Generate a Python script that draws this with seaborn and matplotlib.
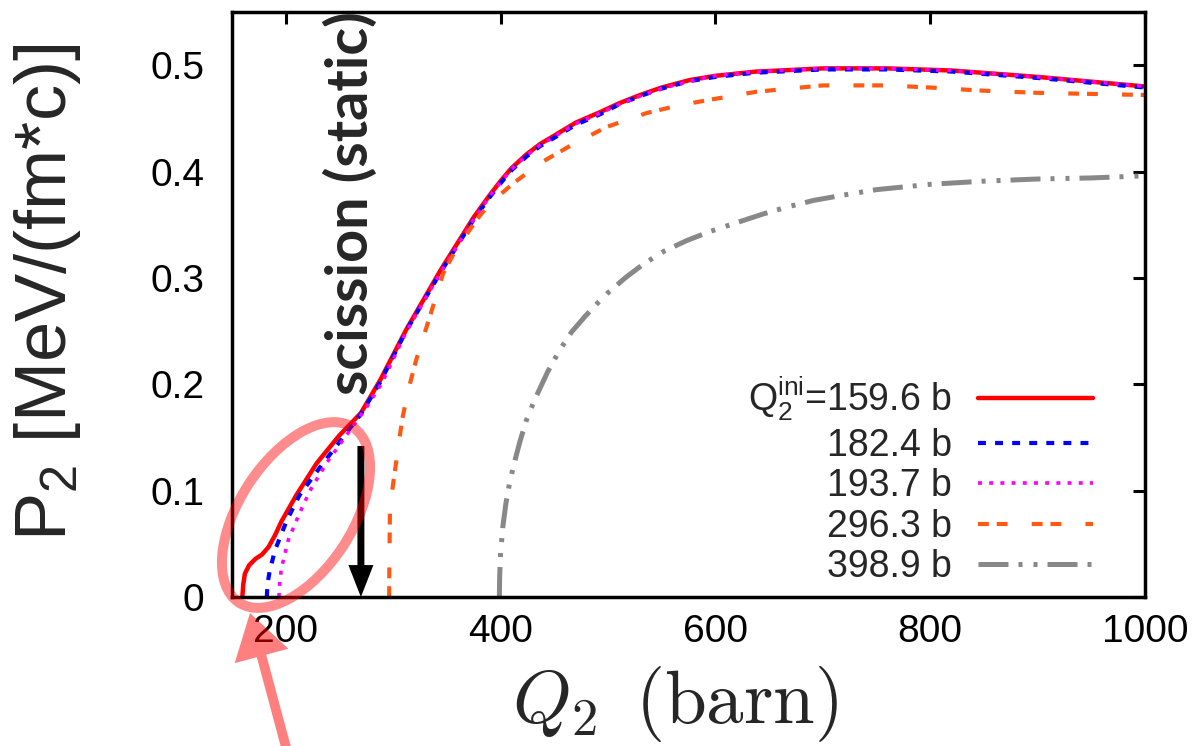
import matplotlib
matplotlib.use('Agg')
import matplotlib.pyplot as plt
import seaborn as sns
from matplotlib.patches import Ellipse

sns.set_style('white')
plt.rcParams['font.family'] = ['Liberation Sans', 'DejaVu Sans']
plt.rcParams['mathtext.fontset'] = 'custom'
plt.rcParams['mathtext.rm'] = 'Liberation Sans'
plt.rcParams['mathtext.it'] = 'Liberation Sans:italic'
plt.rcParams['mathtext.bf'] = 'Liberation Sans:bold'

# P2 vs Q2 for the five initial deformations
q_159 = [159.6, 160.5, 162, 166, 172, 178, 184, 190, 196, 210, 229, 250, 270, 288, 312,
         344, 375, 390, 400, 410, 424, 437, 452, 470, 493, 510, 530, 550, 576, 600, 638,
         660, 700, 760, 820, 900, 1000]
p_159 = [0.0, 0.012, 0.022, 0.030, 0.036, 0.040, 0.047, 0.058, 0.071, 0.096, 0.126, 0.152,
         0.173, 0.204, 0.251, 0.307, 0.357, 0.378, 0.391, 0.403, 0.416, 0.426, 0.435, 0.446,
         0.456, 0.464, 0.472, 0.479, 0.486, 0.490, 0.494, 0.495, 0.497, 0.497, 0.495,
         0.489, 0.480]

q_182 = [182.4, 183, 185, 190, 201, 213, 232, 254, 270, 288, 312,
         344, 375, 390, 400, 410, 424, 437, 452, 470, 493, 510, 530, 550, 576, 600, 638,
         660, 700, 760, 820, 900, 1000]
p_182 = [0.0, 0.012, 0.024, 0.044, 0.072, 0.096, 0.122, 0.151, 0.172, 0.202, 0.250,
         0.305, 0.355, 0.376, 0.389, 0.401, 0.414, 0.424, 0.433, 0.444, 0.454, 0.463,
         0.471, 0.478, 0.485, 0.489, 0.493, 0.494, 0.496, 0.496, 0.494, 0.488, 0.479]

q_193 = [193.7, 194.5, 196, 202.5, 213, 222.6, 238, 260, 275, 290, 312,
         344, 375, 390, 400, 410, 424, 437, 452, 470, 493, 510, 530, 550, 576, 600, 638,
         660, 700, 760, 820, 900, 1000]
p_193 = [0.0, 0.015, 0.027, 0.054, 0.079, 0.100, 0.126, 0.157, 0.178, 0.202, 0.249,
         0.305, 0.355, 0.377, 0.390, 0.402, 0.415, 0.425, 0.434, 0.445, 0.455, 0.463,
         0.471, 0.478, 0.485, 0.490, 0.494, 0.495, 0.497, 0.497, 0.495, 0.489, 0.480]

q_296 = [296.3, 296.4, 296.7, 297, 298.5, 300.5, 303, 306, 309, 315, 321.5, 334, 346.5,
         356, 365, 378, 390, 412, 437, 468, 499, 536, 565, 592, 638, 700, 760, 800, 850,
         900, 950, 1000]
p_296 = [0.0, 0.020, 0.050, 0.079, 0.095, 0.110, 0.128, 0.150, 0.170, 0.198, 0.223, 0.263,
         0.304, 0.322, 0.336, 0.355, 0.370, 0.389, 0.408, 0.426, 0.442, 0.455, 0.462,
         0.467, 0.475, 0.481, 0.481, 0.479, 0.476, 0.474, 0.473, 0.472]

q_398 = [398.9, 399.2, 400, 402, 405, 408, 412, 418, 424, 432, 444, 455, 466, 478, 488,
         500, 516, 533, 552, 573, 596, 620, 644, 668, 692, 720, 750, 800, 850, 900, 950,
         1000]
p_398 = [0.0, 0.020, 0.040, 0.065, 0.088, 0.105, 0.123, 0.146, 0.166, 0.186, 0.212, 0.232,
         0.249, 0.263, 0.274, 0.286, 0.300, 0.313, 0.325, 0.335, 0.344, 0.352, 0.360,
         0.367, 0.373, 0.378, 0.383, 0.388, 0.391, 0.393, 0.394, 0.396]

labels = [r'Q$_2^{\mathrm{ini}}$=159.6 b', '182.4 b', '193.7 b', '296.3 b', '398.9 b']
colors = ['#ff0000', '#0000ff', '#ff00ff', '#ff5a14', '#888888']

xticks = [200, 400, 600, 800, 1000]
yticks = [0, 0.1, 0.2, 0.3, 0.4, 0.5]
ytick_labels = ['0', '0.1', '0.2', '0.3', '0.4', '0.5']

scission_q = 270

fig = plt.figure(figsize=(12.04, 7.46), dpi=100)
ax = fig.add_axes([0.1927, 0.1997, 0.7583, 0.7842])

series = [(q_159, p_159), (q_182, p_182), (q_193, p_193), (q_296, p_296), (q_398, p_398)]
styles = [
    dict(lw=3.2, linestyle='-'),
    dict(lw=3.0, linestyle=(0, (1.9, 2.2))),
    dict(lw=2.6, linestyle=(0, (1.1, 2.0))),
    dict(lw=3.0, linestyle=(0, (2.6, 1.9, 2.6, 5.8))),
    dict(lw=3.6, linestyle=(0, (6, 2, 0.8, 2.2, 0.8, 2))),
]
for (q, p), lab, c, st in zip(series, labels, colors, styles):
    sns.lineplot(x=q, y=p, ax=ax, color=c, label=lab, errorbar=None, sort=False, **st)

ax.set_xlim(150, 1000)
ax.set_ylim(0, 0.55)
ax.set_xticks(xticks)
ax.set_yticks(yticks)
ax.set_yticklabels(ytick_labels)
ax.tick_params(direction='in', length=8.5, width=2.2, labelsize=28, top=True, right=True,
               colors='black')
ax.tick_params(axis='y', pad=20)
ax.tick_params(axis='x', pad=12)
for s in ax.spines.values():
    s.set_linewidth(2.5)
    s.set_color('black')

ax.set_ylabel(r'P$_2$ [MeV/(fm*c)]', fontsize=52)
ax.yaxis.set_label_coords(-0.163, 0.521)
ax.set_xlabel(r'$Q_2\enspace(\mathrm{barn})$', fontsize=54, math_fontfamily='cm')
ax.xaxis.set_label_coords(0.485, -0.115)

handles, labs = ax.get_legend_handles_labels()
ax.legend(handles, labs, loc='lower right', bbox_to_anchor=(0.943, 0.02), frameon=False,
          markerfirst=False, fontsize=27, handlelength=3.07, handletextpad=0.69,
          labelspacing=0.12, borderpad=0, borderaxespad=0)

# scission point marker
ax.annotate('', xy=(scission_q, 0), xytext=(scission_q, 0.142),
            arrowprops=dict(width=5, headwidth=18, headlength=23, shrink=0,
                            facecolor='black', edgecolor='none'))
ax.text(261.0, 0.190, 'scission (static)', rotation=90, ha='center', va='bottom',
        fontsize=41.5, fontweight='bold', family=['Lato', 'DejaVu Sans'], clip_on=False)

# highlight of the early rise
fig.add_artist(Ellipse((2.96, 2.31), 2.09, 1.13, angle=57, fill=False, lw=7.2,
                       edgecolor=(1, 0, 0, 0.45), transform=fig.dpi_scale_trans))
ax.annotate('', xy=(250, 133), xycoords='figure pixels', xytext=(287, -5),
            textcoords='figure pixels', annotation_clip=False,
            arrowprops=dict(width=7, headwidth=40, headlength=32, shrink=0,
                            facecolor=(1, 0, 0, 0.5), edgecolor='none'))

fig.savefig('out.png', dpi=100)
